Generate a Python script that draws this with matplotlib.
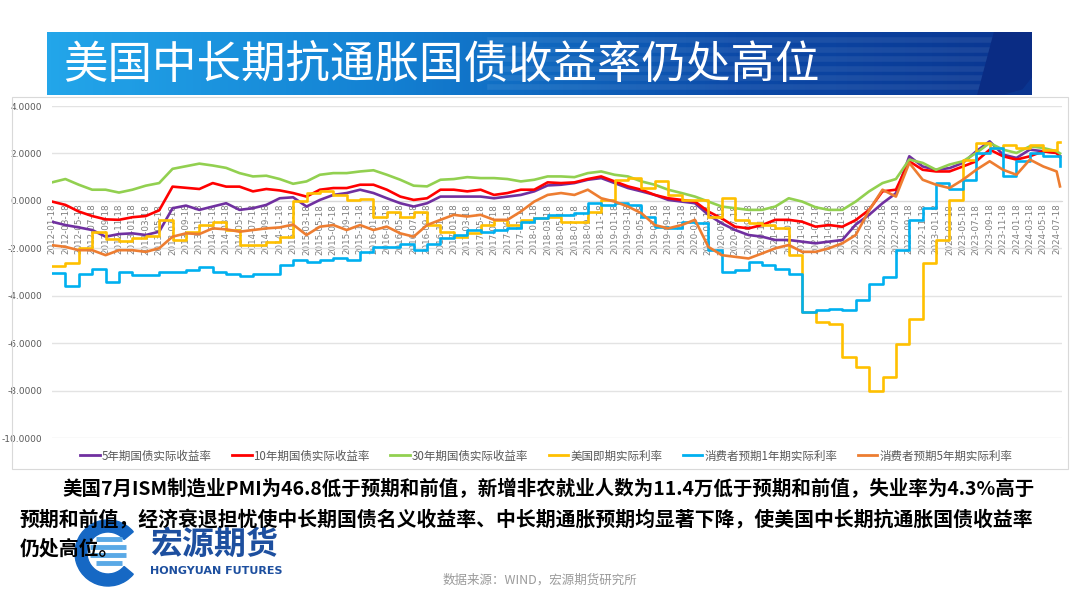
import numpy as np
import matplotlib.pyplot as plt
import matplotlib.patches as mpatches
from matplotlib.colors import LinearSegmentedColormap
from matplotlib.lines import Line2D

plt.rcParams['font.family'] = ['Noto Sans CJK SC', 'DejaVu Sans']

title = "美国中长期抗通胀国债收益率仍处高位"
note_lines = [
    "美国7月ISM制造业PMI为46.8低于预期和前值，新增非农就业人数为11.4万低于预期和前值，失业率为4.3%高于",
    "预期和前值，经济衰退担忧使中长期国债名义收益率、中长期通胀预期均显著下降，使美国中长期抗通胀国债收益率",
    "仍处高位。",
]
source = "数据来源：WIND，宏源期货研究所"

names = ["5年期国债实际收益率", "10年期国债实际收益率", "30年期国债实际收益率",
         "美国即期实际利率", "消费者预期1年期实际利率", "消费者预期5年期实际利率"]
colors = ["#7030a0", "#ff0000", "#92d050", "#ffc000", "#00b0f0", "#ed7d31"]

# tick dates: every two months 2012-01-18 ... 2024-07-18
tick_labels = ["%d-%02d-18" % (2012 + (2 * i) // 12, (2 * i) % 12 + 1) for i in range(76)]
# months since 2012-01-18 (bimonthly readings + last obs in Aug 2024)
months = [2 * i for i in range(76)] + [150.5]

real_5y = [-0.88, -1.02, -1.12, -1.23, -1.51, -1.40, -1.37, -1.44, -1.30, -0.31,
           -0.20, -0.38, -0.24, -0.10, -0.38, -0.31, -0.17, 0.11, 0.15, -0.24,
           0.04, 0.25, 0.33, 0.47, 0.33, 0.11, -0.10, -0.24, -0.10, 0.18,
           0.18, 0.18, 0.18, 0.11, 0.18, 0.25, 0.40, 0.65, 0.68, 0.75,
           0.89, 0.96, 0.75, 0.54, 0.40, 0.25, 0.04, -0.03, -0.10, -0.59,
           -0.95, -1.23, -1.44, -1.51, -1.65, -1.65, -1.72, -1.79, -1.72, -1.65,
           -1.00, -0.59, -0.10, 0.32, 1.88, 1.45, 1.31, 1.38, 1.60, 2.09,
           2.51, 1.95, 1.81, 2.16, 2.09, 2.02, 1.90]

real_10y = [-0.03, -0.17, -0.45, -0.64, -0.78, -0.80, -0.69, -0.64, -0.40, 0.60,
            0.55, 0.50, 0.75, 0.60, 0.60, 0.40, 0.50, 0.44, 0.33, 0.18,
            0.47, 0.54, 0.54, 0.68, 0.68, 0.47, 0.18, 0.04, 0.11, 0.47,
            0.47, 0.40, 0.47, 0.25, 0.33, 0.47, 0.47, 0.78, 0.75, 0.78,
            0.92, 1.03, 0.82, 0.61, 0.47, 0.25, 0.11, 0.04, -0.03, -0.45,
            -0.74, -1.09, -1.16, -1.02, -0.80, -0.80, -0.88, -1.09, -1.02, -1.09,
            -0.81, -0.38, 0.40, 0.47, 1.67, 1.31, 1.24, 1.24, 1.45, 1.67,
            2.16, 1.88, 1.74, 1.88, 2.09, 2.02, 1.85]

real_30y = [0.78, 0.92, 0.68, 0.47, 0.47, 0.35, 0.47, 0.64, 0.75, 1.35,
            1.46, 1.57, 1.49, 1.39, 1.17, 1.03, 1.06, 0.92, 0.72, 0.82,
            1.10, 1.17, 1.17, 1.24, 1.29, 1.10, 0.89, 0.64, 0.61, 0.89,
            0.92, 1.00, 0.96, 0.96, 0.92, 0.82, 0.89, 1.03, 1.03, 1.00,
            1.17, 1.24, 1.10, 1.03, 0.82, 0.68, 0.47, 0.33, 0.18, -0.03,
            -0.24, -0.31, -0.38, -0.38, -0.24, 0.11, -0.03, -0.27, -0.38, -0.38,
            -0.03, 0.40, 0.75, 0.92, 1.74, 1.60, 1.31, 1.53, 1.67, 2.02,
            2.44, 2.16, 2.02, 2.30, 2.23, 2.09, 2.00]

spot_real = [-2.76, -2.64, -2.00, -1.30, -1.60, -1.70, -1.58, -1.50, -0.80, -1.65,
             -1.30, -1.00, -0.88, -1.23, -1.87, -1.87, -1.72, -1.51, 0.00, 0.33,
             0.40, 0.25, 0.04, 0.07, -0.66, -0.45, -0.66, -0.45, -1.02, -1.30,
             -1.51, -1.37, -1.02, -0.80, -1.02, -0.80, -0.73, -0.66, -0.88, -0.88,
             -0.45, 0.04, 0.89, 0.96, 0.54, 0.82, 0.25, 0.04, 0.04, -0.66,
             0.11, -0.80, -0.95, -1.02, -1.16, -2.30, -4.69, -5.11, -5.18, -6.60,
             -7.02, -8.00, -7.44, -6.03, -4.97, -2.64, -1.65, 0.04, 1.74, 2.44,
             2.23, 2.37, 2.23, 2.37, 2.16, 2.47, 2.47]

cons_1y = [-3.04, -3.60, -3.07, -2.86, -3.42, -3.00, -3.14, -3.14, -3.00, -3.00,
           -2.93, -2.79, -3.00, -3.10, -3.18, -3.07, -3.07, -2.72, -2.50, -2.57,
           -2.50, -2.43, -2.50, -2.15, -1.94, -1.94, -1.80, -2.08, -1.80, -1.58,
           -1.44, -1.23, -1.30, -1.23, -1.16, -0.88, -0.73, -0.60, -0.59, -0.52,
           -0.10, -0.17, -0.10, -0.17, -0.66, -1.09, -1.16, -0.88, -0.95, -2.08,
           -3.00, -2.93, -2.57, -2.72, -2.86, -3.10, -4.69, -4.62, -4.55, -4.62,
           -4.19, -3.49, -3.21, -2.08, -0.80, -0.31, 0.75, 0.50, 0.89, 2.02,
           2.23, 1.03, 1.67, 2.02, 1.88, 1.88, 1.45]

cons_5y = [-1.87, -1.94, -2.08, -2.08, -2.29, -2.08, -2.08, -2.15, -2.00, -1.51,
           -1.37, -1.40, -1.16, -1.20, -1.30, -1.23, -1.16, -1.12, -1.00, -1.44,
           -1.09, -1.02, -1.23, -1.02, -1.23, -1.09, -1.37, -1.51, -1.02, -0.80,
           -0.59, -0.66, -0.59, -0.80, -0.80, -0.45, -0.03, 0.25, 0.33, 0.25,
           0.47, 0.11, -0.03, -0.24, -0.52, -1.02, -1.16, -1.02, -0.80, -1.94,
           -2.29, -2.36, -2.43, -2.22, -2.00, -1.86, -2.15, -2.15, -2.00, -1.79,
           -1.44, -0.40, 0.47, 0.18, 1.60, 0.89, 0.68, 0.54, 0.89, 1.31,
           1.67, 1.31, 1.10, 1.74, 1.45, 1.24, 0.61]

series = [real_5y, real_10y, real_30y, spot_real, cons_1y, cons_5y]
steps = [False, False, False, True, True, False]

W, H = 1080, 608
fig = plt.figure(figsize=(W / 100, H / 100), dpi=100)
fig.patch.set_facecolor("white")

# ---- title banner
bax = fig.add_axes([47 / W, 1 - 95 / H, 985 / W, 63 / H])
bax.axis("off")
cmap = LinearSegmentedColormap.from_list(
    "banner", [(0, "#23a6ea"), (0.35, "#1380d2"), (0.7, "#0c4aa8"), (1, "#0a3590")])
bax.imshow(np.linspace(0, 1, 256)[None, :], cmap=cmap, aspect="auto",
           extent=(0, 1, 0, 1), zorder=0)
for yy in [0.12, 0.27, 0.42, 0.57, 0.72, 0.87]:
    bax.plot([0.45, 0.965], [yy, yy], color="white", alpha=0.07, lw=4, zorder=1)
bax.add_patch(mpatches.Polygon([(0.962, 1), (1, 1), (1, 0.3), (0.99, 0.1),
                                (0.972, 0.02), (0.945, 0)], closed=True,
                               color="#0a2c84", zorder=2))
bax.set_xlim(0, 1)
bax.set_ylim(0, 1)
bax.text(0.016, 0.48, title, color="white", fontsize=32, va="center", ha="left", zorder=3)

# ---- chart
ax = fig.add_axes([52 / W, 1 - 438 / H, (1062 - 52) / W, (438 - 106) / H])
# move the x axis to y=0 first (this resets the tick objects)
for s in ["top", "right", "left"]:
    ax.spines[s].set_visible(False)
ax.spines["bottom"].set_position(("data", 0))
ax.spines["bottom"].set_color("#d9d9d9")

for vals, c, st, name in zip(series, colors, steps, names):
    ax.plot(months, vals, color=c, lw=1.9, zorder=3, label=name,
            drawstyle="steps-post" if st else "default")

ax.set_ylim(-10, 4)
ax.set_xlim(0, 150.8)
ax.set_yticks(np.arange(-10, 5, 2))
ax.set_yticklabels(["%.4f" % v for v in np.arange(-10, 5, 2)],
                   family="DejaVu Sans")
ax.set_xticks(months[:76])
ax.set_xticklabels(tick_labels, rotation=90, family="DejaVu Sans")
ax.tick_params(axis="x", length=0, pad=2, labelsize=6.3, labelcolor="#7f7f7f")
ax.tick_params(axis="y", length=0, pad=7, labelsize=6.5, labelcolor="#595959")
ax.grid(axis="y", color="#e3e3e3", lw=1)
ax.set_axisbelow(True)

# chart frame
fig.add_artist(mpatches.Rectangle((12 / W, 1 - 469 / H), 1056 / W, 372 / H,
                                  fill=False, ec="#d9d9d9", lw=0.8,
                                  transform=fig.transFigure))

handles = [Line2D([], [], color=c, lw=2) for c in colors]
leg = fig.legend(handles, names, loc="center", bbox_to_anchor=(546 / W, 1 - 456 / H),
                 ncol=6, frameon=False, fontsize=8.3, handlelength=1.7,
                 handletextpad=0.15, columnspacing=1.8)
for t in leg.get_texts():
    t.set_color("#595959")

# ---- overlay in pixel coordinates for text and logo
ov = fig.add_axes([0, 0, 1, 1])
ov.set_xlim(0, W)
ov.set_ylim(H, 0)
ov.axis("off")

# logo emblem
ov.add_patch(mpatches.Wedge((108, 553), 33, 40, 320, width=12, color="#1668c4", zorder=1))
for yy, x0, x1 in [(539, 96, 122), (547, 90, 126), (555, 90, 126), (563, 96, 122)]:
    ov.plot([x0, x1], [yy, yy], color="#5aa9e6", lw=3.5, solid_capstyle="butt", zorder=1)
ov.text(150, 545, "宏源期货", fontsize=23, fontweight="bold", color="#1d4f9f",
        va="center", ha="left", zorder=1)
ov.text(150, 571, "HONGYUAN FUTURES", fontsize=8, fontweight="bold", color="#1d4f9f",
        va="center", ha="left", family="DejaVu Sans", zorder=1)

ov.text(62, 489, note_lines[0], fontsize=14, fontweight="bold", va="center", ha="left", zorder=3)
ov.text(20, 519, note_lines[1], fontsize=14.3, fontweight="bold", va="center", ha="left", zorder=3)
ov.text(20, 548, note_lines[2], fontsize=14.3, fontweight="bold", va="center", ha="left", zorder=3)
ov.text(540, 580, source, fontsize=9, color="#9a9a9a", va="center", ha="center")

fig.savefig("out.png", dpi=100)
